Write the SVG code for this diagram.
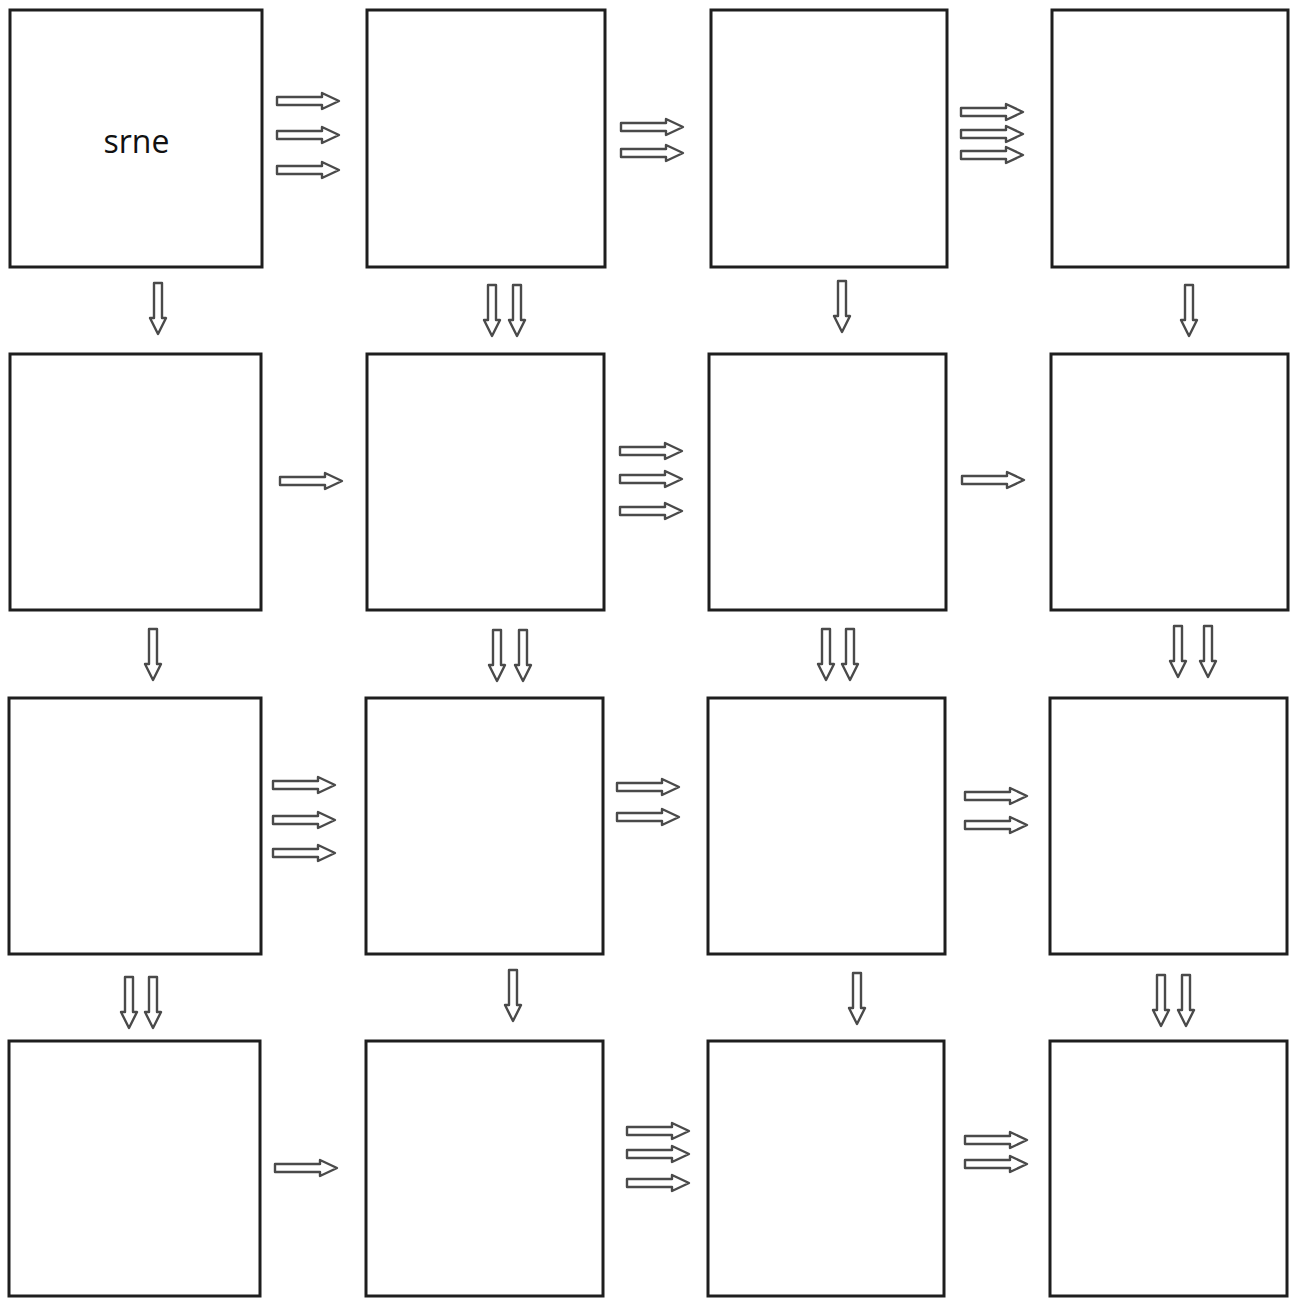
<svg xmlns="http://www.w3.org/2000/svg" xmlns:xlink="http://www.w3.org/1999/xlink" width="1292" height="1298" viewBox="0 0 1292 1298">
<style>
.box{fill:#fff;stroke:#1e1e1e;stroke-width:3}
.arr{fill:#fff;stroke:#4a4a4a;stroke-width:2.4;stroke-linejoin:round}
.lbl{font-family:"Open Sans","Noto Sans",sans-serif;font-size:32px;fill:#111;text-anchor:middle}
</style>
<defs>
<path id="h" class="arr" d="M0,-4 H45 V-8 L62,0 L45,8 V4 H0 Z"/>
<path id="v" class="arr" d="M-4,0 V35 H-8 L0,51 L8,35 H4 V0 Z"/>
</defs>
<rect width="1292" height="1298" fill="#fff"/>
<g id="nodes">
<g id="n11"><rect class="box" x="10" y="10" width="252" height="257"/><text class="lbl" x="136.5" y="153">srne</text></g>
<g id="n12"><rect class="box" x="367" y="10" width="238" height="257"/></g>
<g id="n13"><rect class="box" x="711" y="10" width="236" height="257"/></g>
<g id="n14"><rect class="box" x="1052" y="10" width="236" height="257"/></g>
<g id="n21"><rect class="box" x="10" y="354" width="251" height="256"/></g>
<g id="n22"><rect class="box" x="367" y="354" width="237" height="256"/></g>
<g id="n23"><rect class="box" x="709" y="354" width="237" height="256"/></g>
<g id="n24"><rect class="box" x="1051" y="354" width="237" height="256"/></g>
<g id="n31"><rect class="box" x="9" y="698" width="252" height="256"/></g>
<g id="n32"><rect class="box" x="366" y="698" width="237" height="256"/></g>
<g id="n33"><rect class="box" x="708" y="698" width="237" height="256"/></g>
<g id="n34"><rect class="box" x="1050" y="698" width="237" height="256"/></g>
<g id="n41"><rect class="box" x="9" y="1041" width="251" height="255"/></g>
<g id="n42"><rect class="box" x="366" y="1041" width="237" height="255"/></g>
<g id="n43"><rect class="box" x="708" y="1041" width="236" height="255"/></g>
<g id="n44"><rect class="box" x="1050" y="1041" width="237" height="255"/></g>
</g>
<g id="connectors">
<use xlink:href="#h" x="277" y="101"/><use xlink:href="#h" x="277" y="135"/><use xlink:href="#h" x="277" y="170"/>
<use xlink:href="#h" x="621" y="127"/><use xlink:href="#h" x="621" y="153"/>
<use xlink:href="#h" x="961" y="112"/><use xlink:href="#h" x="961" y="134"/><use xlink:href="#h" x="961" y="155"/>
<use xlink:href="#v" x="158" y="283"/>
<use xlink:href="#v" x="492" y="285"/><use xlink:href="#v" x="517" y="285"/>
<use xlink:href="#v" x="842" y="281"/>
<use xlink:href="#v" x="1189" y="285"/>
<use xlink:href="#h" x="280" y="481"/>
<use xlink:href="#h" x="620" y="451"/><use xlink:href="#h" x="620" y="479"/><use xlink:href="#h" x="620" y="511"/>
<use xlink:href="#h" x="962" y="480"/>
<use xlink:href="#v" x="153" y="629"/>
<use xlink:href="#v" x="497" y="630"/><use xlink:href="#v" x="523" y="630"/>
<use xlink:href="#v" x="826" y="629"/><use xlink:href="#v" x="850" y="629"/>
<use xlink:href="#v" x="1178" y="626"/><use xlink:href="#v" x="1208" y="626"/>
<use xlink:href="#h" x="273" y="785"/><use xlink:href="#h" x="273" y="820"/><use xlink:href="#h" x="273" y="853"/>
<use xlink:href="#h" x="617" y="787"/><use xlink:href="#h" x="617" y="817"/>
<use xlink:href="#h" x="965" y="796"/><use xlink:href="#h" x="965" y="825"/>
<use xlink:href="#v" x="129" y="977"/><use xlink:href="#v" x="153" y="977"/>
<use xlink:href="#v" x="513" y="970"/>
<use xlink:href="#v" x="857" y="973"/>
<use xlink:href="#v" x="1161" y="975"/><use xlink:href="#v" x="1186" y="975"/>
<use xlink:href="#h" x="275" y="1168"/>
<use xlink:href="#h" x="627" y="1131"/><use xlink:href="#h" x="627" y="1154"/><use xlink:href="#h" x="627" y="1183"/>
<use xlink:href="#h" x="965" y="1140"/><use xlink:href="#h" x="965" y="1164"/>
</g>
</svg>
